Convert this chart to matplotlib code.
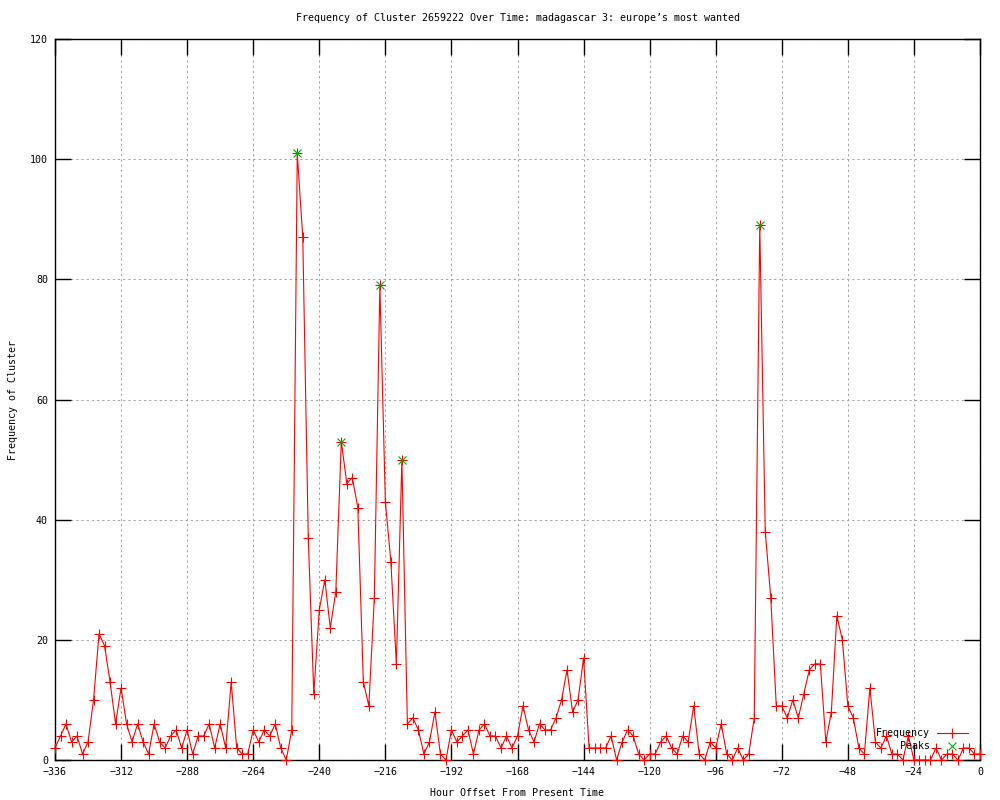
import numpy as np
import matplotlib
matplotlib.use("Agg")
import matplotlib.pyplot as plt
from matplotlib.lines import Line2D

hours = np.arange(-336, 1, 2)
frequency = [
    2, 4, 6, 3, 4, 1, 3, 10, 21, 19, 13, 6, 12, 6, 3, 6, 3, 1, 6, 3,
    2, 4, 5, 2, 5, 1, 4, 4, 6, 2, 6, 2, 13, 2, 1, 1, 5, 3, 5, 4,
    6, 2, 0, 5, 101, 87, 37, 11, 25, 30, 22, 28, 53, 46, 47, 42, 13, 9, 27, 79,
    43, 33, 16, 50, 6, 7, 5, 1, 3, 8, 1, 0, 5, 3, 4, 5, 1, 5, 6, 4,
    4, 2, 4, 2, 4, 9, 5, 3, 6, 5, 5, 7, 10, 15, 8, 10, 17, 2, 2, 2,
    2, 4, 0, 3, 5, 4, 1, 0, 1, 1, 3, 4, 2, 1, 4, 3, 9, 1, 0, 3,
    2, 6, 1, 0, 2, 0, 1, 7, 89, 38, 27, 9, 9, 7, 10, 7, 11, 15, 16, 16,
    3, 8, 24, 20, 9, 7, 2, 1, 12, 3, 2, 4, 1, 1, 0, 4, 0, 0, 0, 0,
    2, 0, 1, 1, 0, 2, 2, 1, 1,
]
peak_hours = [-248, -232, -218, -210, -80]
peak_values = [101, 53, 79, 50, 89]

x_ticks = list(range(-336, 1, 24))
y_ticks = list(range(0, 121, 20))

title = "Frequency of Cluster 2659222 Over Time: madagascar 3: europe\u2019s most wanted"
xlabel = "Hour Offset From Present Time"
ylabel = "Frequency of Cluster"

FONT = "DejaVu Sans Mono"
FS = 7.2

fig = plt.figure(figsize=(10, 8), dpi=100)
ax = fig.add_axes([0.055, 0.05, 0.925, 0.90125])

ax.plot(hours, frequency, color="#ff0000", lw=0.8, marker="+", ms=6.5,
        mew=0.8, clip_on=False, zorder=3)
ax.plot(peak_hours, peak_values, ls="none", color="#00b000", marker="x",
        ms=5.5, mew=0.8, clip_on=False, zorder=4)

ax.set_xlim(-336, 0)
ax.set_ylim(0, 120)
ax.set_xticks(x_ticks)
ax.set_yticks(y_ticks)
ax.grid(True, color="#a0a0a0", lw=0.75, ls=(0, (2, 3)))
ax.set_axisbelow(True)
ax.tick_params(direction="in", length=11.5, width=1.0, top=True, right=True,
               labelsize=FS, pad=5)
for lab in ax.get_xticklabels() + ax.get_yticklabels():
    lab.set_family(FONT)
for sp in ax.spines.values():
    sp.set_linewidth(1.0)

fig.text(0.5175, 0.978, title, ha="center", va="center", family=FONT, fontsize=FS)
fig.text(0.5175, 0.009, xlabel, ha="center", va="center", family=FONT, fontsize=FS)
fig.text(0.013, 0.5, ylabel, ha="center", va="center", rotation=90,
         family=FONT, fontsize=FS)

# legend (gnuplot style: right-aligned labels, sample to the right)
ax.text(0.9459, 0.0374, "Frequency", transform=ax.transAxes, ha="right",
        va="center", family=FONT, fontsize=FS)
ax.text(0.9459, 0.0194, "Peaks", transform=ax.transAxes, ha="right",
        va="center", family=FONT, fontsize=FS)
ax.add_line(Line2D([0.9535, 0.987], [0.0374, 0.0374], transform=ax.transAxes,
                   color="#ff0000", lw=0.8, zorder=5))
ax.add_line(Line2D([0.970], [0.0374], transform=ax.transAxes, color="#ff0000",
                   marker="+", ms=6.5, mew=0.8, zorder=5))
ax.add_line(Line2D([0.970], [0.0194], transform=ax.transAxes, color="#00b000",
                   marker="x", ms=5.5, mew=0.8, zorder=5))

fig.savefig("out.png", dpi=100)
